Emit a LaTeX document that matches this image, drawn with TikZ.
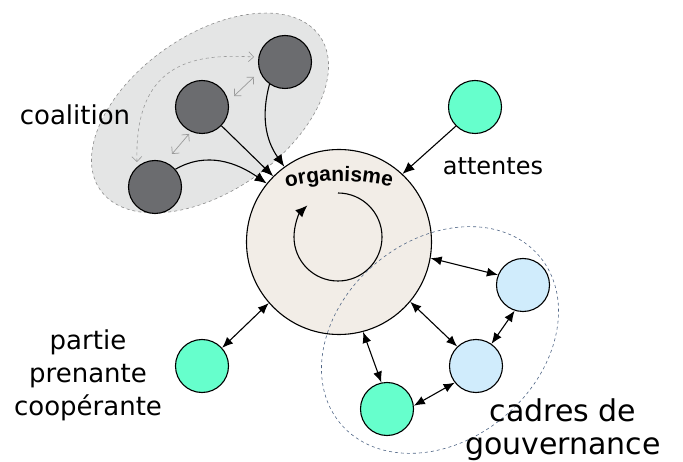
\documentclass[tikz,border=0pt]{standalone}
\usepackage{fontspec}
\setmainfont{DejaVu Sans}
\newfontfamily\orgfont{Liberation Sans}
\usetikzlibrary{arrows.meta,decorations.text,calc}
\definecolor{coalfill}{HTML}{E4E5E5}
\definecolor{coalline}{HTML}{8C8C8C}
\definecolor{darkc}{HTML}{6B6C6F}
\definecolor{greenc}{HTML}{66FFCC}
\definecolor{bluec}{HTML}{D0ECFC}
\definecolor{orgfill}{HTML}{F2EDE7}
\definecolor{govline}{HTML}{4F6585}
\definecolor{garrc}{HTML}{9A9A9A}
\begin{document}
\begin{tikzpicture}[x=1pt,y=1pt,
  circ/.style={circle,draw=black,line width=1.1pt,minimum size=53pt,inner sep=0pt},
  darkcirc/.style={circ,fill=darkc},
  greencirc/.style={circ,fill=greenc},
  bluecirc/.style={circ,fill=bluec},
  arr/.style={line width=1.1pt,-{Latex[length=12pt,width=10pt]}},
  darr/.style={line width=1.1pt,{Latex[length=11pt,width=9pt]}-{Latex[length=11pt,width=9pt]}},
  garr/.style={draw=garrc,line width=0.7pt,{Straight Barb[length=5pt,width=10pt]}-{Straight Barb[length=5pt,width=10pt]}},
  lbl/.style={inner sep=0pt,align=center}]
\useasboundingbox (0,0) rectangle (683,461);
% coalition ellipse
\draw[fill=coalfill,draw=coalline,dashed,line width=0.6pt,rotate around={35:(210,348)}] (210,348) ellipse[x radius=134,y radius=78];
% organisme
\node[circ,fill=orgfill,minimum size=185pt] (org) at (339,219) {};
\draw[line width=1.1pt,-{Latex[length=12pt,width=10pt]}] (338,268) arc[start angle=90,end angle=-226,radius=44];
\path[decorate,decoration={text along path,text align=center,
  text={|\orgfont\bfseries\fontsize{21}{21}\selectfont|organisme}}]
  (339,60)+(106:220) arc[start angle=106,end angle=74,radius=220];
% gouvernance ellipse
\draw[draw=govline,dashed,line width=0.6pt,rotate around={40:(440,121)}] (440,121) ellipse[x radius=130,y radius=100];
% circles
\node[darkcirc] (C1) at (155,274) {};
\node[darkcirc] (C2) at (202,354) {};
\node[darkcirc] (C3) at (285,399) {};
\node[greencirc] (A) at (475,354) {};
\node[greencirc] (P) at (202,95) {};
\node[bluecirc] (B1) at (523,176) {};
\node[bluecirc] (B2) at (476,95) {};
\node[greencirc] (G3) at (387,52) {};
% coalition connectors
\draw[arr] (C1.41) to[out=30,in=145] (org.141);
\draw[arr] (C2.-44) -- (org.135);
\draw[arr] (C3.-125) to[out=-105,in=125] (org.126);
\coordinate (ga1) at (172,307);
\coordinate (ga2) at (189,327);
\coordinate (gb1) at (234,365);
\coordinate (gb2) at (254,384);
\coordinate (gd1) at (137,299);
\coordinate (gd2) at (254,404);
\draw[garr] (ga1) -- (ga2);
\draw[garr] (gb1) -- (gb2);
\draw[garr,dashed,line width=0.6pt] (gd1) .. controls (134,403) and (200,407) .. (gd2);
% other connectors
\draw[arr] (A.-135) -- (org.47);
\draw[darr] (P.42) -- (org.221);
\draw[darr] (org.-10) -- (B1.158);
\draw[darr] (org.-40) -- (B2.134);
\draw[darr] (org.-75) -- (G3.102);
\draw[darr] (B1.-108) -- (B2.55);
\draw[darr] (B2.218) -- (G3.7);
% labels
\node[lbl,font=\fontsize{26}{30}\selectfont] (tcoal) at (75,346) {coalition};
\node[lbl,font=\fontsize{24}{28}\selectfont] (tatt) at (493,295) {attentes};
\node[lbl,font=\fontsize{26}{33}\selectfont] (tpart) at (88,86) {partie\\prenante\\coopérante};
\node[lbl,font=\fontsize{30}{33}\selectfont] (tgov) at (563,31) {cadres de\\gouvernance};
\end{tikzpicture}
\end{document}
